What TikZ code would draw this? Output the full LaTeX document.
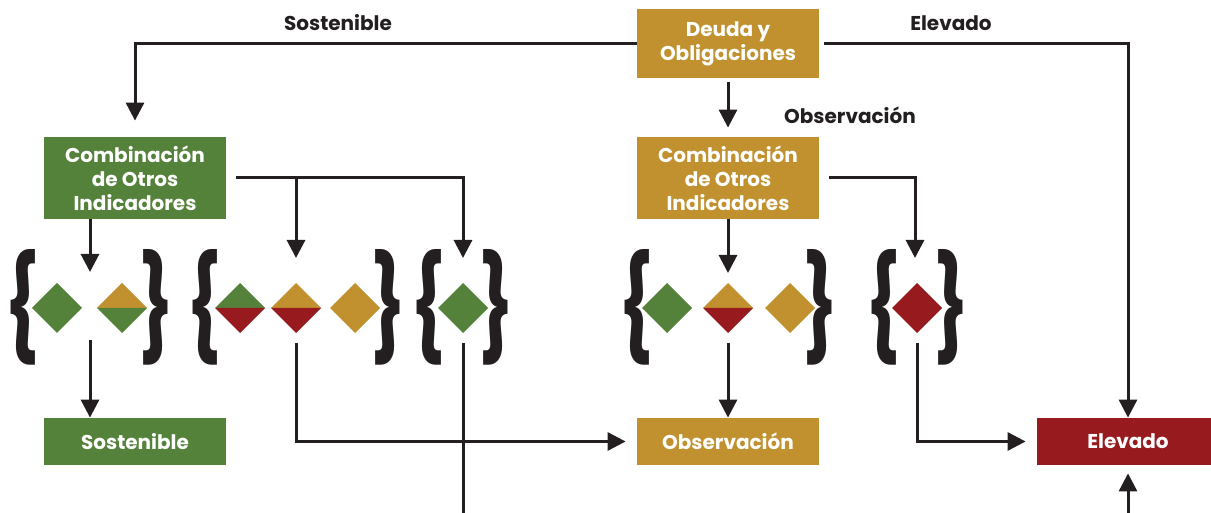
\documentclass[tikz,border=0pt]{standalone}
\usepackage{fontspec}
\setmainfont{Poppins}
\usepackage{graphicx}
\usepackage{tikz}
\usetikzlibrary{arrows.meta, positioning}

\definecolor{verde}{RGB}{84,130,58}
\definecolor{oro}{RGB}{192,145,46}
\definecolor{rojo}{RGB}{150,26,30}
\definecolor{tinta}{RGB}{35,31,32}

\tikzset{
	caja/.style={minimum width=91pt, inner sep=0pt, text=white, align=center,
		font=\bfseries\fontsize{10}{12}\selectfont},
	flecha/.style={draw=tinta, line width=1.5pt, -{Triangle[length=9pt, width=9pt]}},
	linea/.style={draw=tinta, line width=1.5pt},
	etiqueta/.style={text=tinta, inner sep=0pt, font=\bfseries\fontsize{10}{12}\selectfont},
	llave/.style={text=tinta, inner sep=0pt, font=\bfseries}
}

% rombo: x, color arriba, color abajo
\newcommand{\rombo}[3]{
	\fill[#2] (#1-25,308) -- (#1,283) -- (#1+25,308) -- cycle;
	\fill[#3] (#1-25,308) -- (#1,333) -- (#1+25,308) -- cycle;
}

\begin{document}
\begin{tikzpicture}[x=0.5pt, y=-0.5pt]
	\useasboundingbox (0,0) rectangle (1211,513);

	%cajas
	\node[caja, fill=oro, minimum height=34.5pt] (deuda) at (728,43.5) {Deuda y\\Obligaciones};
	\node[caja, fill=verde, minimum height=41pt] (combi) at (135,178) {Combinación\\de Otros\\Indicadores};
	\node[caja, fill=oro, minimum height=41pt] (combd) at (728,178) {Combinación\\de Otros\\Indicadores};
	\node[caja, fill=verde, minimum height=23.5pt] (sost) at (135,441.5) {Sostenible};
	\node[caja, fill=oro, minimum height=23.5pt] (obs) at (728,441.5) {Observación};
	\node[caja, fill=rojo, minimum height=23.5pt] (elev) at (1128,441.5) {Elevado};

	%etiquetas
	\node[etiqueta] (tsost) at (338,23) {Sostenible};
	\node[etiqueta] (telev) at (951,23) {Elevado};
	\node[etiqueta] (tobs) at (850,115) {Observación};

	%llaves
	\foreach \x/\n in {23/1, 204.5/2, 428.5/3, 636.5/4, 883/5}
		\node[llave] (lla\n) at (\x,307.5) {\resizebox{18pt}{47pt}{\{}};
	\foreach \x/\n in {157/1, 388.5/2, 496.5/3, 820/4, 951/5}
		\node[llave] (llc\n) at (\x,307.5) {\resizebox{18pt}{47pt}{\}}};

	%rombos
	\rombo{57}{verde}{verde}
	\rombo{122}{oro}{verde}
	\rombo{240}{verde}{rojo}
	\rombo{296}{oro}{rojo}
	\rombo{355}{oro}{oro}
	\rombo{463}{verde}{verde}
	\rombo{667}{verde}{verde}
	\rombo{728}{oro}{rojo}
	\rombo{790}{oro}{oro}
	\rombo{917}{rojo}{rojo}

	%puntas de flecha y salidas de cada grupo
	\coordinate (g1t) at (90,272);
	\coordinate (g2t) at (296,258);
	\coordinate (g3t) at (463,258);
	\coordinate (g4t) at (728,273);
	\coordinate (g5t) at (915,258);
	\coordinate (g1b) at (90,340);
	\coordinate (g2b) at (296,343);
	\coordinate (g3b) at (463,343);
	\coordinate (g4b) at (728,343);
	\coordinate (g5b) at (917,343);
	\coordinate (g3f) at (463,513);
	\coordinate (elevf) at (1128,513);

	%flechas
	\draw[flecha, shorten >=8pt] (deuda.west) -| (combi.north);
	\draw[flecha, shorten <=2.5pt] (deuda.east) -| (elev.north);
	\draw[flecha, shorten <=2pt, shorten >=4.5pt] (deuda.south) -- (combd.north);

	\draw[flecha, shorten <=0pt] (g1t |- combi.south) -- (g1t);
	\draw[flecha, shorten <=5pt] (combi.east) -| (g3t);
	\draw[flecha] (g2t |- combi.east) -- (g2t);
	\draw[flecha] (combd.south) -- (g4t);
	\draw[flecha, shorten <=5pt] (combd.east) -| (g5t);

	\draw[flecha] (g1b) -- (g1b |- sost.north);
	\draw[flecha, shorten >=5.5pt] (g2b) |- (obs.west);
	\draw[linea] (g3b) -- (g3f);
	\draw[flecha, shorten >=0pt] (g4b) -- (obs.north);
	\draw[flecha, shorten >=5.5pt] (g5b) |- (elev.west);
	\draw[flecha, shorten >=4pt] (elevf) -- (elev.south);
\end{tikzpicture}
\end{document}
